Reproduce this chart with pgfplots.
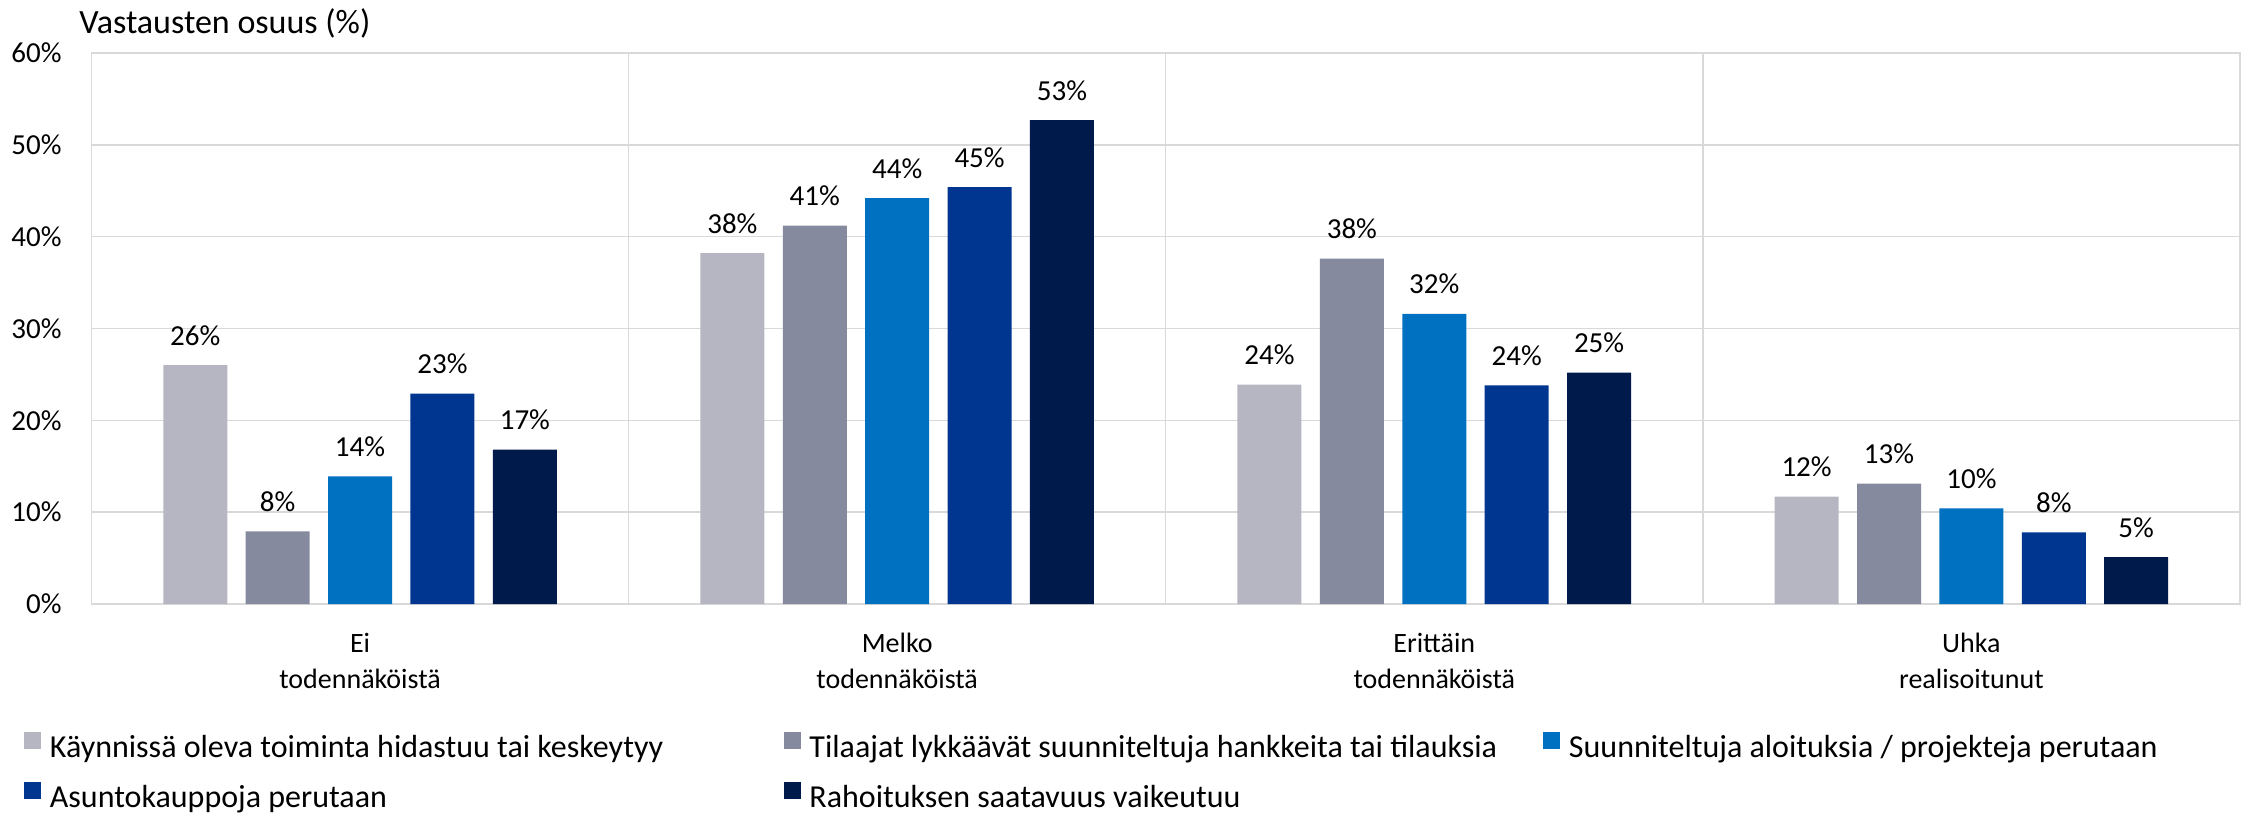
\documentclass[border=0pt]{standalone}
\usepackage{pgfplots}
\pgfplotsset{compat=1.18}
\usepackage{fontspec}
\setmainfont{Carlito}
\definecolor{c1}{HTML}{B6B6C3}
\definecolor{c2}{HTML}{858A9F}
\definecolor{c3}{HTML}{0070C0}
\definecolor{c4}{HTML}{003590}
\definecolor{c5}{HTML}{001A4B}
\definecolor{gridc}{HTML}{D9D9D9}
\begin{document}
\begin{tikzpicture}
\begin{axis}[
  at={(0pt,0pt)}, anchor=south west,
  scale only axis, width=1074.25pt, height=275.5pt,
  xmin=-0.5, xmax=3.5, ymin=0, ymax=60,
  ybar=9.2pt, bar width=32pt,
  xtick={0,1,2,3},
  xticklabels={{Ei\\todennäköistä},{Melko\\todennäköistä},{Erittäin\\todennäköistä},{Uhka\\realisoitunut}},
  minor xtick={0.5,1.5,2.5},
  xminorgrids, ymajorgrids,
  ytick={0,10,...,60},
  yticklabel={\pgfmathprintnumber{\tick}\%},
  /pgf/number format/assume math mode=true,
  major tick length=0pt, minor tick length=0pt,
  tick style={draw=none},
  axis line style={draw=gridc, line width=0.75pt},
  major grid style={draw=gridc, line width=0.75pt},
  minor grid style={draw=gridc, line width=0.75pt},
  yticklabel style={anchor=east, inner sep=0pt, xshift=-14.75pt, font=\fontsize{14.5}{17}\selectfont},
  xticklabel style={anchor=base, align=center, inner sep=0pt, yshift=-42pt, font=\fontsize{14}{18}\selectfont},
  every axis y label/.style={at={(rel axis cs:0,1)}, anchor=base west, inner sep=0pt, xshift=-6.25pt, yshift=10pt, font=\fontsize{17}{20}\selectfont},
  ylabel={Vastausten osuus (\%)},
  nodes near coords={\pgfmathprintnumber[fixed,precision=0]{\pgfplotspointmeta}\%},
  nodes near coords style={anchor=base, inner sep=0pt, yshift=10pt, font=\fontsize{14.5}{17}\selectfont, text=black},
  sqleg/.style={legend image code/.code={\fill[##1] (0pt,0.5pt) rectangle (8.5pt,9pt);}},
  legend columns=3,
  legend cell align=left,
  legend style={at={(-0.0312,-0.232)}, anchor=north west, draw=none, fill=none, inner sep=0pt, outer sep=0pt,
    font=\fontsize{16}{19}\selectfont,
    nodes={inner sep=0pt, text height=11.5pt, text depth=3.5pt},
    /tikz/every odd column/.append style={column sep=4.25pt},
    row sep=8.5pt},
]
\addplot[fill=c1, draw=none, sqleg] coordinates {(0,26.0) (1,38.2) (2,23.9) (3,11.7)};
\addlegendentry{\makebox[367pt][l]{Käynnissä oleva toiminta hidastuu tai keskeytyy}}
\addplot[fill=c2, draw=none, sqleg] coordinates {(0,7.9) (1,41.2) (2,37.6) (3,13.1)};
\addlegendentry{\makebox[367pt][l]{Tilaajat lykkäävät suunniteltuja hankkeita tai tilauksia}}
\addplot[fill=c3, draw=none, sqleg] coordinates {(0,13.9) (1,44.2) (2,31.6) (3,10.4)};
\addlegendentry{Suunniteltuja aloituksia / projekteja perutaan}
\addplot[fill=c4, draw=none, sqleg] coordinates {(0,22.9) (1,45.4) (2,23.8) (3,7.8)};
\addlegendentry{\makebox[367pt][l]{Asuntokauppoja perutaan}}
\addplot[fill=c5, draw=none, sqleg] coordinates {(0,16.8) (1,52.7) (2,25.2) (3,5.1)};
\addlegendentry{\makebox[367pt][l]{Rahoituksen saatavuus vaikeutuu}}
\end{axis}
\pgfresetboundingbox
\path (-45.75pt,-104.5pt) rectangle (1077.75pt,302pt);
\end{tikzpicture}
\end{document}
